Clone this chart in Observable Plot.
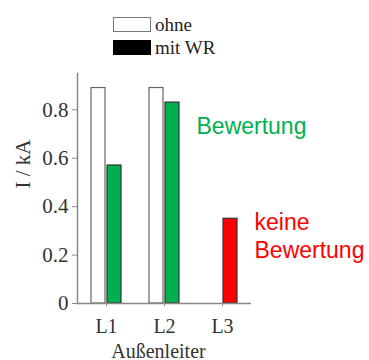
<!DOCTYPE html>
<html><head><meta charset="utf-8">
<script src="https://cdn.jsdelivr.net/npm/d3@7"></script>
<script src="https://cdn.jsdelivr.net/npm/@observablehq/plot@0.6"></script>
<style>
body{margin:0;background:#fff;}
#wrap{position:relative;width:369px;height:360px;}
#legend{position:absolute;left:113px;top:13px;font-family:"Liberation Serif",serif;font-size:19px;color:#222;}
.row{display:flex;align-items:center;height:23px;}
.sw{width:38px;height:15px;margin-right:4px;box-sizing:border-box;}
</style></head>
<body><div id="wrap"><div id="legend"></div></div>
<script>
const categories = ["L1", "L2", "L3"];
const ohne = [0.89, 0.89, 0.0];
const mitWR = [0.57, 0.83, 0.35];
const mitColors = ["#00b050", "#00b050", "#ff0000"];
const seriesNames = ["ohne", "mit WR"];
const yTicks = [0, 0.2, 0.4, 0.6, 0.8];
const annotations = [
  {x: "L2", y: 0.7, text: "Bewertung", color: "#00b050"},
  {x: "L3", y: 0.19, text: "keine\nBewertung", color: "#ff0000"}
];

const dOhne = categories.map((c, i) => ({cat: c, value: ohne[i]}));
const dMit = categories.map((c, i) => ({cat: c, value: mitWR[i], color: mitColors[i]}));

const serif = "Liberation Serif";
const chart = Plot.plot({
  width: 369, height: 360,
  marginTop: 73, marginBottom: 57, marginLeft: 77, marginRight: 118,
  style: {fontFamily: serif, fontSize: "20px", color: "#333", background: "#fff"},
  x: {type: "band", domain: categories, padding: 0},
  y: {domain: [0, 0.95]},
  color: {type: "identity"},
  marks: [
    Plot.barY(dOhne, {x: "cat", y: "value", fill: "#fff", stroke: "#666", strokeWidth: 1.2, insetLeft: 14, insetRight: 30}),
    Plot.barY(dMit, {x: "cat", y: "value", fill: "color", stroke: "#333", strokeWidth: 1.2, insetLeft: 30, insetRight: 14}),
    Plot.ruleY([0], {stroke: "#888", strokeWidth: 1.5}),
    Plot.frame({anchor: "left", stroke: "#888", strokeWidth: 1.5}),
    Plot.axisY({ticks: yTicks, tickFormat: d => d === 0 ? "0" : d3.format(".1f")(d), tickSize: 5, tickPadding: 4, fontSize: 21, fontFamily: serif, stroke: "#888", fill: "#333", label: null}),
    Plot.axisX({tickSize: 3, tickPadding: 12, fontSize: 20, fontFamily: serif, stroke: "#888", fill: "#333", label: null}),
    Plot.text(["I / kA"], {frameAnchor: "left", rotate: -90, dx: -54, fontSize: 21, fontFamily: serif, fill: "#333"}),
    Plot.text(["Außenleiter"], {frameAnchor: "bottom", dy: 54, dx: -6, fontSize: 20, fontFamily: serif, fill: "#333"}),
    Plot.text(annotations, {x: "x", y: "y", text: "text", fill: "color", textAnchor: "start", lineAnchor: "bottom", dx: 32, fontSize: 23, lineHeight: 1.2, fontFamily: "Liberation Sans", className: "anno"})
  ]
});
d3.select(chart).selectAll("text").style("font-family", "'Liberation Serif', serif").style("font-variant", "normal");
d3.select(chart).selectAll(".anno text").style("font-family", "'Liberation Sans', sans-serif");
document.getElementById("wrap").appendChild(chart);

const legend = document.getElementById("legend");
const legendFill = ["#fff", "#000"];
const legendStroke = ["#777", "#000"];
seriesNames.forEach((n, i) => {
  const row = document.createElement("div");
  row.className = "row";
  const sw = document.createElement("div");
  sw.className = "sw";
  sw.style.background = legendFill[i];
  sw.style.border = "1.5px solid " + legendStroke[i];
  const t = document.createElement("span");
  t.textContent = n;
  row.appendChild(sw); row.appendChild(t);
  legend.appendChild(row);
});
</script></body></html>
